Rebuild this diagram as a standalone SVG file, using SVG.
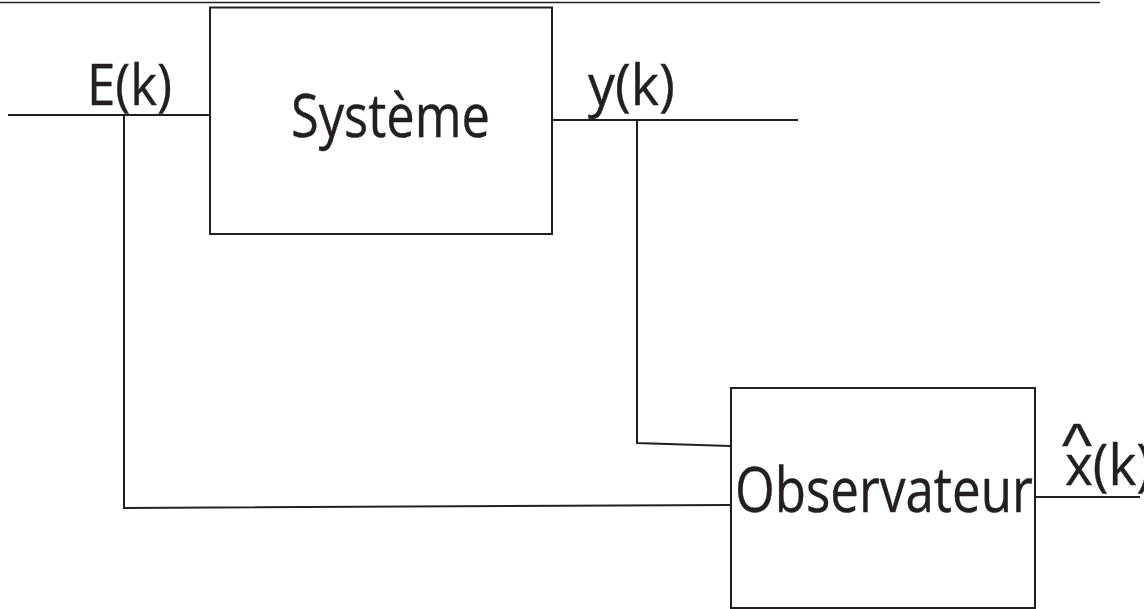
<svg xmlns="http://www.w3.org/2000/svg" width="1144" height="609" viewBox="0 0 1144 609">
  <style>
    .box { fill: #ffffff; stroke: #231f20; stroke-width: 2; }
    .wire { fill: none; stroke: #231f20; stroke-width: 2; }
    .lbl { font-family: "Open Sans", "Liberation Sans", sans-serif; fill: #231f20; stroke: #231f20; stroke-width: 0.4; }
  </style>
  <rect width="1144" height="609" fill="#ffffff"/>
  <line x1="0" y1="2.5" x2="1100" y2="2.5" stroke="#231f20" stroke-width="1.5"/>
  <g id="connectors">
    <line class="wire" x1="8" y1="115" x2="210" y2="115"/>
    <polyline class="wire" points="124,115 124,508 730,505"/>
    <line class="wire" x1="552" y1="120" x2="798" y2="120"/>
    <polyline class="wire" points="637,120 637,443 730,446"/>
    <line class="wire" x1="1035" y1="497" x2="1140" y2="497"/>
  </g>
  <g id="systeme">
    <rect class="box" x="210" y="7.5" width="342" height="226.5"/>
    <text class="lbl" x="291" y="137" font-size="60" textLength="199" lengthAdjust="spacingAndGlyphs">Système</text>
  </g>
  <g id="observateur">
    <rect class="box" x="731" y="388" width="304" height="220"/>
    <text class="lbl" x="735" y="512" font-size="62" textLength="298" lengthAdjust="spacingAndGlyphs">Observateur</text>
  </g>
  <g id="label-E">
    <text class="lbl" x="87" y="105" font-size="56" textLength="85" lengthAdjust="spacingAndGlyphs">E(k)</text>
  </g>
  <g id="label-y">
    <text class="lbl" x="588" y="105" font-size="56" textLength="87" lengthAdjust="spacingAndGlyphs">y(k)</text>
  </g>
  <g id="label-xhat">
    <text class="lbl" font-size="56"><tspan x="1062" y="466" font-family="Liberation Sans" font-size="62" textLength="30" lengthAdjust="spacingAndGlyphs">^</tspan><tspan x="1065" y="485" textLength="87" lengthAdjust="spacingAndGlyphs">x(k)</tspan></text>
  </g>
</svg>
